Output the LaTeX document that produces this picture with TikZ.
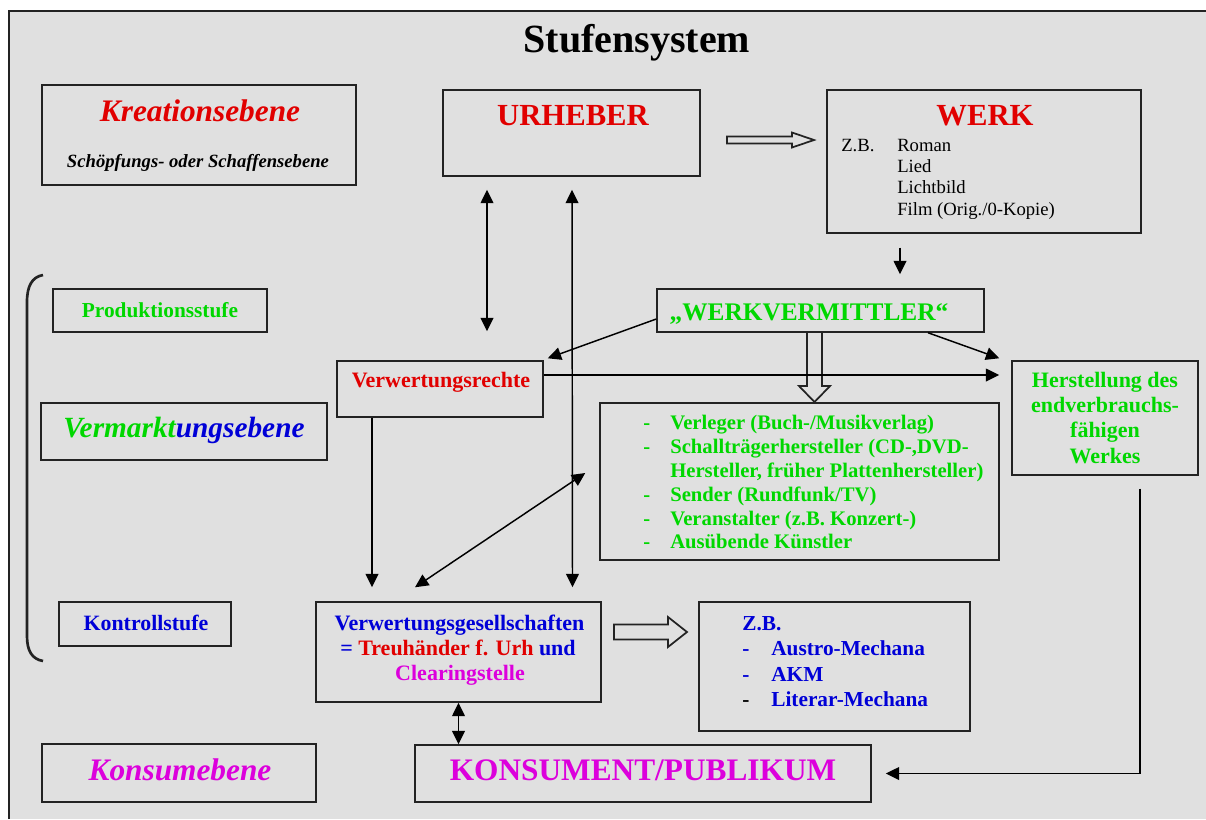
\documentclass[tikz,border=0pt]{standalone}
\usepackage{fontspec}
\setmainfont{Liberation Serif}
\usetikzlibrary{arrows.meta,calc}
\definecolor{bg}{RGB}{224,224,224}
\definecolor{cred}{RGB}{225,0,0}
\definecolor{cgreen}{RGB}{0,215,0}
\definecolor{cblue}{RGB}{0,0,215}
\definecolor{cmag}{RGB}{220,0,220}
\definecolor{edge}{RGB}{35,35,35}
\newcommand{\fsz}[1]{\fontsize{#1pt}{#1pt}\selectfont}
\tikzset{
 bx/.style 2 args={draw=edge, line width=1.1pt, minimum width=#1*0.75pt, minimum height=#2*0.75pt, inner sep=0pt},
 tx/.style={anchor=base, inner sep=0pt},
 txl/.style={anchor=base west, inner sep=0pt},
 arr/.style={draw=black, line width=1.1pt, -{Triangle[length=10pt,width=9.5pt]}},
 dbl/.style={draw=black, line width=1.1pt, {Triangle[length=10pt,width=9.5pt]}-{Triangle[length=10pt,width=9.5pt]}},
 hollow/.style={draw=edge, line width=1.3pt, line join=miter}
}
\begin{document}
\begin{tikzpicture}[x=0.75pt,y=-0.75pt]
\useasboundingbox (0,0) rectangle (1206,819);
\fill[bg] (9,11) rectangle (1206,819);
\draw[edge, line width=1.2pt] (9,819) -- (9,11) -- (1206,11);

% title
\node[tx] (title) at (637,52) {\fsz{30}\bfseries Stufensystem};

% boxes
\node[bx={314}{100}] (krea) at (199,135) {};
\node[bx={257}{86}] (urh) at (571.5,133) {};
\node[bx={314}{143}] (werk) at (984,161.5) {};
\node[bx={214}{43}] (prod) at (160,310.5) {};
\node[bx={327}{43}] (vm) at (820.5,310.5) {};
\node[bx={206}{56}] (vr) at (440,389) {};
\node[bx={186}{114}] (herst) at (1105,418) {};
\node[bx={286}{57}] (verm) at (184,431.5) {};
\node[bx={399}{157}] (list) at (799.5,481.5) {};
\node[bx={172}{44}] (kontr) at (145,624) {};
\node[bx={285}{100}] (vg) at (458.5,652) {};
\node[bx={271}{129}] (zb) at (834.5,666.5) {};
\node[bx={274}{58}] (konsebene) at (179,773) {};
\node[bx={456}{57}] (kons) at (643,773.5) {};

% texts
\node[tx] (t-krea) at (200,121) {\fsz{23.5}\bfseries\itshape\color{cred}Kreationsebene};
\node[tx] (t-schoepf) at (198,167) {\fsz{14}\bfseries\itshape Schöpfungs- oder Schaffensebene};
\node[tx] (t-urh) at (573,125) {\fsz{23}\bfseries\color{cred}URHEBER};
\node[tx] (t-werk) at (985,125) {\fsz{23}\bfseries\color{cred}WERK};
\node[txl] (t-zb1) at (841,151) {\fsz{14}Z.B.};
\node[txl] (t-w1) at (897,151) {\fsz{14}Roman};
\node[txl] (t-w2) at (897,172) {\fsz{14}Lied};
\node[txl] (t-w3) at (897,193.5) {\fsz{14}Lichtbild};
\node[txl] (t-w4) at (897,215) {\fsz{14}Film (Orig./0-Kopie)};
\node[tx] (t-prod) at (160,317) {\fsz{16}\bfseries\color{cgreen}Produktionsstufe};
\node[tx] (t-vm) at (809,320) {\fsz{19}\bfseries\color{cgreen}„WERKVERMITTLER“};
\node[tx] (t-vr) at (441,387) {\fsz{16.5}\bfseries\color{cred}Verwertungsrechte};
\node[tx] (t-h1) at (1105,387) {\fsz{16.5}\bfseries\color{cgreen}Herstellung des};
\node[tx] (t-h2) at (1105,412.5) {\fsz{16.5}\bfseries\color{cgreen}endverbrauchs-};
\node[tx] (t-h3) at (1105,437.5) {\fsz{16.5}\bfseries\color{cgreen}fähigen};
\node[tx] (t-h4) at (1105,463) {\fsz{16.5}\bfseries\color{cgreen}Werkes};
\node[tx] (t-verm) at (184,437) {\fsz{22}\bfseries\itshape{\color{cgreen}Vermarkt}{\color{cblue}ungsebene}};
\node[txl] (t-ld1) at (643,429) {\fsz{15.5}\bfseries\color{cgreen}-};
\node[txl] (t-l1) at (670,429) {\fsz{15.5}\bfseries\color{cgreen}Verleger (Buch-/Musikverlag)};
\node[txl] (t-ld2) at (643,453) {\fsz{15.5}\bfseries\color{cgreen}-};
\node[txl] (t-l2) at (670,453) {\fsz{15.5}\bfseries\color{cgreen}Schallträgerhersteller (CD-,DVD-};
\node[txl] (t-l2b) at (670,477) {\fsz{15.5}\bfseries\color{cgreen}Hersteller, früher Plattenhersteller)};
\node[txl] (t-ld3) at (643,501) {\fsz{15.5}\bfseries\color{cgreen}-};
\node[txl] (t-l3) at (670,501) {\fsz{15.5}\bfseries\color{cgreen}Sender (Rundfunk/TV)};
\node[txl] (t-ld4) at (643,525) {\fsz{15.5}\bfseries\color{cgreen}-};
\node[txl] (t-l4) at (670,525) {\fsz{15.5}\bfseries\color{cgreen}Veranstalter (z.B. Konzert-)};
\node[txl] (t-ld5) at (643,548) {\fsz{15.5}\bfseries\color{cgreen}-};
\node[txl] (t-l5) at (670,548) {\fsz{15.5}\bfseries\color{cgreen}Ausübende Künstler};
\node[tx] (t-kontr) at (146,630) {\fsz{16.4}\bfseries\color{cblue}Kontrollstufe};
\node[tx] (t-vg1) at (459.5,630) {\fsz{16.5}\bfseries\color{cblue}Verwertungsgesellschaften};
\node[tx] (t-vg2) at (458,655) {\fsz{16.5}\bfseries{\color{cblue}=} {\color{cred}Treuhänder f. Urh} {\color{cblue}und}};
\node[tx] (t-vg3) at (460,680) {\fsz{16.5}\bfseries\color{cmag}Clearingstelle};
\node[txl] (t-zb) at (742,630) {\fsz{16}\bfseries\color{cblue}Z.B.};
\node[txl] (t-zd1) at (742,655) {\fsz{16}\bfseries\color{cblue}-};
\node[txl] (t-z1) at (771,655) {\fsz{16}\bfseries\color{cblue}Austro-Mechana};
\node[txl] (t-zd2) at (742,681) {\fsz{16}\bfseries\color{cblue}-};
\node[txl] (t-z2) at (771,681) {\fsz{16}\bfseries\color{cblue}AKM};
\node[txl] (t-zd3) at (742,706) {\fsz{16}\bfseries -};
\node[txl] (t-z3) at (771,706) {\fsz{16}\bfseries\color{cblue}Literar-Mechana};
\node[tx] (t-kons) at (643,780) {\fsz{23.5}\bfseries\color{cmag}KONSUMENT/PUBLIKUM};
\node[tx] (t-konsebene) at (180,780) {\fsz{23.5}\bfseries\itshape\color{cmag}Konsumebene};

% left bracket
\draw[edge, line width=2pt] (43,275) .. controls (32,277) and (27,286) .. (27,302) -- (27,636) .. controls (27,651) and (32,659) .. (43,661);

% hollow arrows
\draw[hollow] (727,136.5) -- (792,136.5) -- (792,132.5) -- (814,140) -- (792,147.5) -- (792,143.5) -- (727,143.5) -- cycle;
\draw[hollow] (807,332) -- (807,386) -- (799,386) -- (814.5,402) -- (830,386) -- (822,386) -- (822,332);
\draw[hollow] (614,624.5) -- (668,624.5) -- (668,617) -- (687,632) -- (668,647) -- (668,639.5) -- (614,639.5) -- cycle;

% connectors
\draw[dbl] ([shift={(-84.5,13)}]urh.south) -- ([shift={(47,-29)}]vr.north);
\draw[dbl] ([shift={(0.5,13)}]urh.south) -- ([shift={(114,-14)}]vg.north);
\draw[arr] ([shift={(-84,14)}]werk.south) -- ([shift={(79.5,-14)}]vm.north);
\draw[arr] ([shift={(0,8.5)}]vm.west) -- ([shift={(4,-2)}]vr.north east);
\draw[arr] ([shift={(107.5,0)}]vm.south) -- ([shift={(-12,-2)}]herst.north west);
\draw[arr] ([shift={(0,-14)}]vr.east) -- ([shift={(-12,-43)}]herst.west);
\draw[arr] ([shift={(-68,0)}]vr.south) -- ([shift={(-86.5,-14)}]vg.north);
\draw[dbl] ([shift={(-14,-8.5)}]list.west) -- ([shift={(-43.5,-14)}]vg.north);
\draw[dbl] (vg.south) -- (vg.south |- kons.north);
\draw[arr] ([shift={(35,13)}]herst.south) |- ([shift={(14,0)}]kons.east);
\end{tikzpicture}
\end{document}
